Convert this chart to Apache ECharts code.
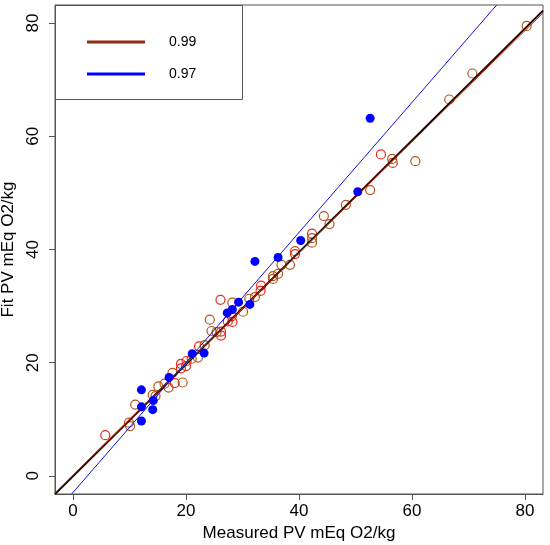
<!DOCTYPE html>
<html>
<head>
<meta charset="utf-8">
<script src="https://cdn.jsdelivr.net/npm/echarts@6/dist/echarts.min.js"></script>
<style>
  html, body { margin: 0; padding: 0; background: #fff; }
  #main { width: 550px; height: 545px; }
</style>
</head>
<body>
<div id="main"></div>
<script>
var myChart = echarts.init(document.getElementById('main'));

// open red circles (measured, fit)
const redPoints = [
    [5.7, 7.2], [18.0, 16.4], [19.1, 19.8], [20.1, 20.3], [20.0, 19.4], [19.1, 19.0],
    [22.3, 22.9], [26.2, 25.5], [26.2, 24.8], [28.1, 28.2], [27.4, 27.3], [28.2, 27.2],
    [26.1, 31.1], [33.3, 33.6], [33.2, 32.7], [39.3, 39.2], [42.3, 42.8], [54.5, 56.8],
    [56.6, 55.3]
];

// open brown circles
const brownPoints = [
    [9.9, 9.4], [10.1, 8.8], [11.0, 12.6], [14.1, 14.3], [14.6, 14.1], [15.1, 15.8],
    [16.2, 16.3], [16.9, 15.6], [19.4, 16.5], [17.6, 18.2], [21.0, 20.7], [22.1, 20.9],
    [23.3, 23.1], [25.4, 25.4], [24.5, 25.6], [24.2, 27.6], [28.2, 30.6], [30.1, 29.0],
    [31.2, 31.3], [32.2, 31.6], [35.4, 35.3], [35.4, 34.8], [36.3, 35.7], [36.9, 37.3],
    [38.4, 37.3], [39.3, 39.7], [42.3, 42.0], [42.3, 41.2], [44.4, 45.9], [45.4, 44.5],
    [48.3, 47.9], [52.6, 50.5], [56.5, 56.0], [60.6, 55.6], [66.6, 66.5], [70.7, 71.1],
    [80.3, 79.5]
];

// filled blue circles
const bluePoints = [
    [12.1, 15.2], [12.1, 12.2], [14.1, 11.7], [12.1, 9.7], [14.2, 13.3], [17.0, 17.4],
    [21.1, 21.6], [23.2, 21.7], [27.3, 28.8], [28.2, 29.4], [29.3, 30.7], [31.3, 30.3],
    [32.2, 37.9], [36.3, 38.6], [40.3, 41.6], [50.4, 50.2], [52.6, 63.2]
];

// fitted lines, end points
const blackFit = [[-3.2, -3.2], [83.2, 82.2]];
const redFit = [[-3.2, -3.0], [83.2, 81.8]];
const blueFit = [[-0.25, -3.2], [75.0, 83.2]];

const tickValues = [0, 20, 40, 60, 80];
const legendNames = ['0.99', '0.97'];

const axisColor = '#555555';
const font = 'Liberation Sans, Arial, sans-serif';

let option = {
    animation: false,
    backgroundColor: '#ffffff',
    grid: {
        left: 55, top: 5, width: 488, height: 489,
        outerBoundsMode: 'none', containLabel: false,
        show: true, borderColor: axisColor, borderWidth: 1
    },
    xAxis: {
        type: 'value', min: -3.2, max: 83.2,
        name: 'Measured PV mEq O2/kg', nameLocation: 'middle', nameGap: 31,
        nameTextStyle: {fontFamily: font, fontSize: 17, color: '#000'},
        axisLine: {show: true, onZero: false, lineStyle: {color: axisColor}},
        axisTick: {show: true, length: 6, customValues: tickValues, lineStyle: {color: axisColor}},
        axisLabel: {customValues: tickValues, margin: 9, fontFamily: font, fontSize: 17, color: '#000'},
        splitLine: {show: false}
    },
    yAxis: {
        type: 'value', min: -3.2, max: 83.2,
        name: 'Fit PV mEq O2/kg', nameLocation: 'middle', nameGap: 32, nameRotate: 90,
        nameTextStyle: {fontFamily: font, fontSize: 17, color: '#000'},
        axisLine: {show: true, onZero: false, lineStyle: {color: axisColor}},
        axisTick: {show: true, length: 6, customValues: tickValues, lineStyle: {color: axisColor}},
        axisLabel: {customValues: tickValues, rotate: 90, margin: 13, fontFamily: font, fontSize: 17, color: '#000'},
        splitLine: {show: false}
    },
    legend: {
        orient: 'vertical', left: 82, top: 29,
        icon: 'rect', itemWidth: 58, itemHeight: 3, itemGap: 16,
        data: [
            {name: legendNames[0], itemStyle: {color: '#8B2E12'}},
            {name: legendNames[1], itemStyle: {color: '#0000FF'}}
        ],
        textStyle: {fontFamily: font, fontSize: 14, color: '#000', lineHeight: 16, padding: [0, 0, 0, 19]},
        selectedMode: false
    },
    graphic: [{
        type: 'rect', left: 55, top: 5, z: 0,
        shape: {width: 187, height: 94},
        style: {fill: '#fff', stroke: axisColor, lineWidth: 1}
    }],
    series: [
        {
            type: 'scatter', name: 'red', data: redPoints, symbolSize: 9,
            itemStyle: {color: 'rgba(0,0,0,0)', borderColor: '#E8281E', borderWidth: 1.2, opacity: 1}
        },
        {
            type: 'scatter', name: 'brown', data: brownPoints, symbolSize: 9,
            itemStyle: {color: 'rgba(0,0,0,0)', borderColor: '#B0561E', borderWidth: 1.2, opacity: 1}
        },
        {
            type: 'line', name: 'black', data: blackFit, symbol: 'none',
            lineStyle: {color: '#1A0800', width: 2}, z: 3
        },
        {
            type: 'line', name: legendNames[0], data: redFit, symbol: 'none',
            itemStyle: {color: '#8B2E12'},
            lineStyle: {color: '#CC2200', width: 1}, z: 3
        },
        {
            type: 'line', name: legendNames[1], data: blueFit, symbol: 'none',
            itemStyle: {color: '#0000FF'},
            lineStyle: {color: '#1010E0', width: 1}, z: 3
        },
        {
            type: 'scatter', name: 'blue', data: bluePoints, symbolSize: 9,
            itemStyle: {color: '#0000FF', opacity: 1}, z: 4
        }
    ]
};

myChart.setOption(option);
</script>
</body>
</html>
